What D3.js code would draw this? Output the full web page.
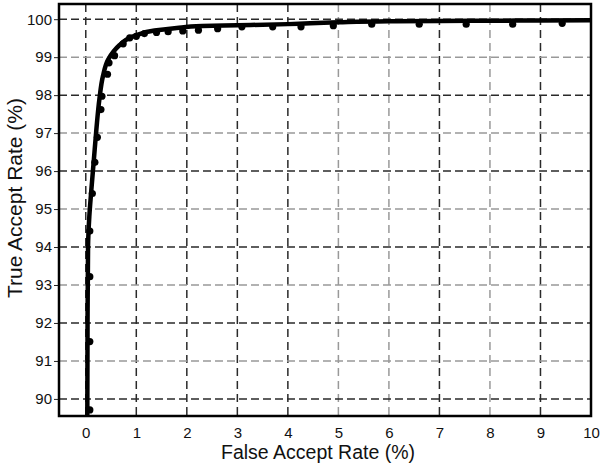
<!DOCTYPE html>
<html>
<head>
<meta charset="utf-8">
<script src="https://cdn.jsdelivr.net/npm/d3@7"></script>
<style>
  body { margin: 0; background: #fff; }
  text { font-family: "Liberation Sans", Arial, sans-serif; }
</style>
</head>
<body>
<svg width="600" height="470"></svg>
<script>
// measured operating points (dots)
const dotFar = [0.08, 0.08, 0.08, 0.08, 0.13, 0.18, 0.23, 0.30, 0.32, 0.43, 0.46, 0.57, 0.74, 0.87, 1.0, 1.16, 1.40, 1.63, 1.92, 2.23, 2.61, 3.09, 3.70, 4.26, 4.90, 5.66, 6.60, 7.53, 8.45, 9.43];
const dotTar = [89.71, 91.51, 93.22, 94.42, 95.41, 96.23, 96.89, 97.62, 97.97, 98.55, 98.85, 99.04, 99.35, 99.51, 99.55, 99.62, 99.65, 99.67, 99.69, 99.71, 99.75, 99.80, 99.80, 99.80, 99.83, 99.87, 99.87, 99.87, 99.87, 99.89];

// fitted ROC curve
const fitFar = [0.03, 0.035, 0.045, 0.07, 0.11, 0.16, 0.21, 0.27, 0.34, 0.44, 0.55, 0.67, 0.8, 1.0, 1.36, 1.8, 2.3, 3, 4, 5, 6, 7, 8, 9, 10];
const fitTar = [89.3, 92, 94, 94.8, 95.5, 96.3, 97.1, 97.9, 98.5, 98.93, 99.15, 99.32, 99.46, 99.58, 99.7, 99.77, 99.82, 99.84, 99.87, 99.92, 99.945, 99.955, 99.96, 99.965, 99.97];

const xTicks = [0, 1, 2, 3, 4, 5, 6, 7, 8, 9, 10];
const yTicks = [90, 91, 92, 93, 94, 95, 96, 97, 98, 99, 100];
const darkX = [0, 1, 2, 3, 4, 7, 9];

const svg = d3.select("svg");
const pLeft = 59, pRight = 591, pTop = 4, pBottom = 416;

const x = d3.scaleLinear().domain([-0.53, 10]).range([pLeft, pRight]);
const y = d3.scaleLinear().domain([89.55, 100.4]).range([pBottom, pTop]);

svg.append("defs").append("clipPath").attr("id", "plotclip")
  .append("rect")
  .attr("x", pLeft).attr("y", pTop)
  .attr("width", pRight - pLeft).attr("height", pBottom - pTop);

// grid
const grid = svg.append("g");
grid.selectAll(".vg")
  .data(xTicks)
  .enter().append("line")
  .attr("x1", d => x(d)).attr("x2", d => x(d))
  .attr("y1", pTop).attr("y2", pBottom)
  .attr("stroke", d => darkX.includes(d) ? "#2a2a2a" : "#999")
  .attr("stroke-width", 1.5)
  .attr("stroke-dasharray", "8,5");

grid.selectAll(".hg")
  .data(yTicks)
  .enter().append("line")
  .attr("x1", pLeft).attr("x2", pRight)
  .attr("y1", d => y(d)).attr("y2", d => y(d))
  .attr("stroke", d => d % 2 === 0 ? "#2a2a2a" : "#999")
  .attr("stroke-width", 1.5)
  .attr("stroke-dasharray", "8,4");

// axes
const xAxis = svg.append("g")
  .attr("transform", `translate(0,${pBottom})`)
  .call(d3.axisBottom(x).tickValues(xTicks).tickSize(0).tickPadding(11));
const yAxis = svg.append("g")
  .attr("transform", `translate(${pLeft},0)`)
  .call(d3.axisLeft(y).tickValues(yTicks).tickSize(5).tickPadding(2));

[xAxis, yAxis].forEach(a => {
  a.select(".domain").remove();
  a.selectAll("text").attr("font-size", 15).attr("fill", "#111")
    .attr("font-family", "'Liberation Sans', Arial, sans-serif");
  a.selectAll("line").attr("stroke", "#222");
});

// curve
const pts = fitFar.map((f, i) => [f, fitTar[i]]);
const line = d3.line()
  .x(d => x(d[0]))
  .y(d => y(d[1]))
  .curve(d3.curveMonotoneY);

const plot = svg.append("g").attr("clip-path", "url(#plotclip)");
plot.append("path")
  .datum(pts)
  .attr("d", line)
  .attr("fill", "none")
  .attr("stroke", "#000")
  .attr("stroke-width", 4.5)
  .attr("stroke-linejoin", "round");

plot.selectAll(".dot")
  .data(dotFar.map((f, i) => [f, dotTar[i]]))
  .enter().append("circle")
  .attr("cx", d => x(d[0]))
  .attr("cy", d => y(d[1]))
  .attr("r", 3.6)
  .attr("fill", "#000");

// frame
svg.append("rect")
  .attr("x", pLeft).attr("y", pTop)
  .attr("width", pRight - pLeft).attr("height", pBottom - pTop)
  .attr("fill", "none")
  .attr("stroke", "#000")
  .attr("stroke-width", 2.5);

// titles
svg.append("text")
  .attr("x", 318).attr("y", 459)
  .attr("text-anchor", "middle")
  .attr("font-size", 19.5)
  .attr("fill", "#111")
  .text("False Accept Rate (%)");

svg.append("text")
  .attr("transform", "translate(22,198) rotate(-90)")
  .attr("text-anchor", "middle")
  .attr("font-size", 21)
  .attr("fill", "#111")
  .text("True Accept Rate (%)");
</script>
</body>
</html>
